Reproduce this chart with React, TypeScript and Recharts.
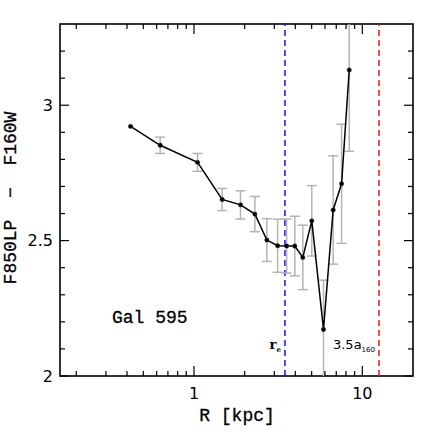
import React from 'react';
import { ComposedChart, Line, XAxis, YAxis, ErrorBar, ReferenceLine } from 'recharts';

// radial colour profile of Gal 595
const radius = [0.42, 0.63, 1.05, 1.47, 1.89, 2.3, 2.71, 3.14, 3.55, 3.97, 4.43, 5.01, 5.88, 6.71, 7.53, 8.36];
const colour = [2.922, 2.852, 2.789, 2.652, 2.632, 2.598, 2.502, 2.481, 2.48, 2.48, 2.438, 2.573, 2.172, 2.613, 2.71, 3.13];
const colourErr = [0, 0.03, 0.033, 0.041, 0.052, 0.065, 0.079, 0.098, 0.1, 0.11, 0.119, 0.13, 0.182, 0.2, 0.22, 0.3];

const xTicks = [0.2, 0.3, 0.4, 0.5, 0.6, 0.7, 0.8, 0.9, 1, 2, 3, 4, 5, 6, 7, 8, 9, 10];
const xLabels = [1, 10];
const yTicks = [2, 2.1, 2.2, 2.3, 2.4, 2.5, 2.6, 2.7, 2.8, 2.9, 3, 3.1, 3.2];
const yLabels = [2, 2.5, 3];

const rEff = 3.47;
const r160 = 12.56;

const data = radius.map((r, i) => ({ r, c: colour[i], err: colourErr[i] }));

// plot frame (pixels)
const L = 60;
const T = 24;
const R = 413;
const B = 376;

const serif = '"Liberation Mono", monospace';
const sans = '"DejaVu Sans", sans-serif';

// ticks go inside the box, on all four sides
function XTick(props: any) {
  const { x, payload } = props;
  const major = xLabels.includes(payload.value);
  const len = major ? 10 : 5;
  return (
    <g>
      <line x1={x} x2={x} y1={B} y2={B - len} stroke="#000" strokeWidth={1.2} />
      <line x1={x} x2={x} y1={T} y2={T + len} stroke="#000" strokeWidth={1.2} />
      {major && (
        <text x={x} y={B + 23} textAnchor="middle" fontFamily={sans} fontSize={16} fill="#000">
          {payload.value}
        </text>
      )}
    </g>
  );
}

function YTick(props: any) {
  const { y, payload } = props;
  const major = yLabels.includes(payload.value);
  const len = major ? 9 : 5;
  return (
    <g>
      <line x1={L} x2={L + len} y1={y} y2={y} stroke="#000" strokeWidth={1.2} />
      <line x1={R} x2={R - len} y1={y} y2={y} stroke="#000" strokeWidth={1.2} />
      {major && (
        <text x={L - 7} y={y} textAnchor="end" dominantBaseline="central" fontFamily={sans} fontSize={16} fill="#000">
          {payload.value}
        </text>
      )}
    </g>
  );
}

function ReLabel(props: any) {
  const { viewBox } = props;
  return (
    <text x={viewBox.x - 4} y={B - 27} textAnchor="end" fontFamily='"DejaVu Serif", serif' fontWeight="bold" fontSize={13} fill="#000">
      r<tspan fontSize={7} dy={3}>e</tspan>
    </text>
  );
}

function OuterLabel(props: any) {
  const { viewBox } = props;
  return (
    <text x={viewBox.x - 4} y={B - 27} textAnchor="end" fontFamily={sans} fontSize={13} fill="#000">
      3.5a<tspan fontSize={7} dy={3}>160</tspan>
    </text>
  );
}

export default function App() {
  return (
    <div style={{ position: 'absolute', left: 0, top: 0, width: 436, height: 436, background: '#fff' }}>
      <style>{'.recharts-errorBar line { clip-path: url(#plotClip); }'}</style>
      <ComposedChart width={436} height={436} data={data} margin={{ top: T, right: 436 - R, bottom: 0, left: 0 }}>
        <defs>
          <clipPath id="plotClip">
            <rect x={L} y={T} width={R - L} height={B - T} />
          </clipPath>
        </defs>
        <XAxis
          xAxisId="b"
          dataKey="r"
          type="number"
          scale="log"
          domain={[0.16, 20]}
          allowDataOverflow
          ticks={xTicks}
          interval={0}
          height={436 - B}
          tickSize={0}
          tickMargin={0}
          tickLine={false}
          axisLine={false}
          tick={(p: any) => <XTick {...p} />}
        />
        <YAxis
          yAxisId="l"
          type="number"
          domain={[2, 3.3]}
          allowDataOverflow
          ticks={yTicks}
          interval={0}
          width={L}
          tickSize={0}
          tickMargin={0}
          tickLine={false}
          axisLine={false}
          tick={(p: any) => <YTick {...p} />}
        />
        <ReferenceLine
          xAxisId="b"
          yAxisId="l"
          x={rEff}
          stroke="#1010ff"
          strokeWidth={1.5}
          strokeDasharray="6 4"
          label={<ReLabel />}
        />
        <ReferenceLine
          xAxisId="b"
          yAxisId="l"
          x={r160}
          stroke="#ff1010"
          strokeWidth={1.5}
          strokeDasharray="6 4"
          label={<OuterLabel />}
        />
        <Line
          xAxisId="b"
          yAxisId="l"
          dataKey="c"
          type="linear"
          stroke="#000"
          strokeWidth={1.5}
          dot={{ r: 2.2, fill: '#000', stroke: '#333', strokeWidth: 0.5 }}
          isAnimationActive={false}
        >
          <ErrorBar dataKey="err" direction="y" width={5} stroke="#b4b4b4" strokeWidth={1.5} clipPath="url(#plotClip)" />
        </Line>
        <rect x={L} y={T} width={R - L} height={B - T} fill="none" stroke="#000" strokeWidth={1.6} />
        <text x={112} y={323} fontFamily={serif} fontSize={18} fill="#000" stroke="#000" strokeWidth={0.3}>Gal 595</text>
        <text x={237} y={421} textAnchor="middle" fontFamily={serif} fontSize={18} fill="#000" stroke="#000" strokeWidth={0.3}>R [kpc]</text>
        <text
          x={11}
          y={198}
          transform="rotate(-90 11 198)"
          textAnchor="middle"
          dominantBaseline="central"
          fontFamily={serif}
          fontSize={18}
          fill="#000"
          stroke="#000"
          strokeWidth={0.3}
          style={{ whiteSpace: 'pre' }}
        >
          {'F850LP  \u2212  F160W'}
        </text>
      </ComposedChart>
    </div>
  );
}
